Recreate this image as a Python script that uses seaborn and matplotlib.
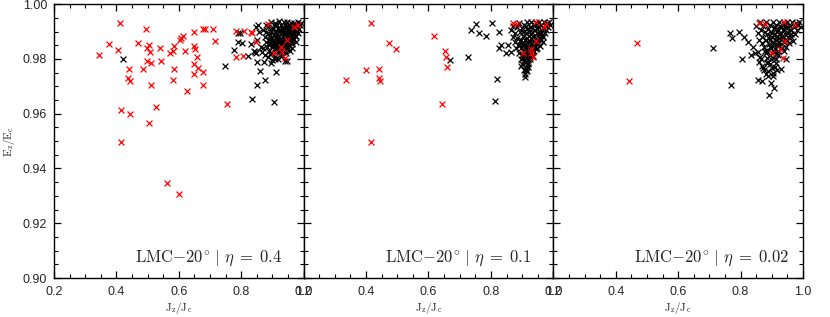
import numpy as np
import pandas as pd
import matplotlib.pyplot as plt
import seaborn as sns

sns.set_theme(style='ticks')
plt.rcParams['font.family'] = ['Liberation Sans', 'DejaVu Sans']
plt.rcParams['mathtext.fontset'] = 'cm'

# panel labels
etas = ['0.4', '0.1', '0.02']

# ---- panel 1 (eta = 0.4) ----
p1_red_x = [0.345, 0.375, 0.404, 0.413, 0.441, 0.436, 0.443, 0.415, 0.443, 0.415,
            0.470, 0.486, 0.494, 0.499, 0.503, 0.507, 0.497, 0.512, 0.512, 0.505,
            0.526, 0.539, 0.542, 0.573, 0.583, 0.585, 0.584, 0.582, 0.603, 0.606,
            0.614, 0.619, 0.625, 0.649, 0.649, 0.653, 0.649, 0.657, 0.649, 0.660,
            0.676, 0.678, 0.676, 0.684, 0.710, 0.717, 0.755, 0.782, 0.784, 0.809,
            0.806, 0.830, 0.835, 0.846, 0.886, 0.905, 0.929, 0.932, 0.948, 0.940,
            0.970, 0.981, 0.561, 0.601]
p1_red_y = [0.9816, 0.9853, 0.9833, 0.9932, 0.9762, 0.9731, 0.9720, 0.9613, 0.9598, 0.9496,
            0.9857, 0.9764, 0.9908, 0.9838, 0.9850, 0.9826, 0.9792, 0.9786, 0.9704, 0.9567,
            0.9625, 0.9838, 0.9792, 0.9820, 0.9828, 0.9847, 0.9763, 0.9723, 0.9869, 0.9875,
            0.9884, 0.9830, 0.9682, 0.9898, 0.9848, 0.9836, 0.9780, 0.9808, 0.9745, 0.9765,
            0.9753, 0.9704, 0.9908, 0.9908, 0.9908, 0.9864, 0.9634, 0.9808, 0.9903, 0.9903,
            0.9810, 0.9898, 0.9893, 0.9861, 0.9929, 0.9820, 0.9844, 0.9826, 0.9869, 0.9802,
            0.9917, 0.9923, 0.9348, 0.9305]

p1_blk_x = [0.422, 0.748, 0.778, 0.791, 0.791, 0.802, 0.822, 0.830, 0.835, 0.852,
            0.852, 0.859, 0.875, 0.873, 0.897, 0.905, 0.913, 0.940, 0.948, 0.848,
            0.865, 0.870, 0.907, 0.795, 0.840, 0.845, 0.848, 0.852, 0.858, 0.862,
            0.855,
            0.870, 0.875, 0.878, 0.880, 0.882, 0.885, 0.887, 0.889, 0.890, 0.892,
            0.894, 0.895, 0.897, 0.899, 0.900, 0.902, 0.904, 0.905, 0.907, 0.908,
            0.910, 0.911, 0.913, 0.914, 0.916, 0.917, 0.918, 0.920, 0.921, 0.922,
            0.924, 0.925, 0.927, 0.928, 0.930, 0.931, 0.933, 0.934, 0.936, 0.937,
            0.939, 0.940, 0.942, 0.943, 0.945, 0.946, 0.948, 0.949, 0.951, 0.952,
            0.954, 0.955, 0.957, 0.958, 0.960, 0.962, 0.963, 0.965, 0.967, 0.969,
            0.970, 0.972, 0.974, 0.976, 0.978, 0.980, 0.983, 0.985, 0.988, 0.990,
            0.875, 0.885, 0.893, 0.918, 0.930, 0.944, 0.955, 0.962, 0.908, 0.900,
            0.896, 0.901, 0.906, 0.911, 0.916, 0.921, 0.926, 0.931, 0.936, 0.941,
            0.946, 0.951, 0.956, 0.961, 0.966, 0.971, 0.898, 0.903, 0.909, 0.914,
            0.919, 0.923, 0.929, 0.934, 0.938, 0.944, 0.949, 0.953, 0.959, 0.964,
            0.968, 0.973, 0.880, 0.886, 0.891, 0.925, 0.935, 0.950, 0.975, 0.982]
p1_blk_y = [0.9798, 0.9775, 0.9832, 0.9893, 0.9862, 0.9857, 0.9810, 0.9853, 0.9652, 0.9789,
            0.9704, 0.9755, 0.9723, 0.9789, 0.9784, 0.9643, 0.9753, 0.9792, 0.9792, 0.9917,
            0.9826, 0.9838, 0.9808, 0.9893, 0.9830, 0.9825, 0.9820, 0.9870, 0.9900, 0.9845,
            0.9925,
            0.9905, 0.9880, 0.9925, 0.9860, 0.9842, 0.9895, 0.9915, 0.9870, 0.9830, 0.9855,
            0.9935, 0.9900, 0.9878, 0.9845, 0.9820, 0.9912, 0.9888, 0.9862, 0.9932, 0.9840,
            0.9902, 0.9875, 0.9850, 0.9922, 0.9890, 0.9865, 0.9830, 0.9940, 0.9905, 0.9880,
            0.9855, 0.9815, 0.9925, 0.9895, 0.9870, 0.9845, 0.9915, 0.9885, 0.9860, 0.9935,
            0.9900, 0.9875, 0.9840, 0.9920, 0.9890, 0.9862, 0.9935, 0.9905, 0.9878, 0.9850,
            0.9925, 0.9895, 0.9868, 0.9930, 0.9902, 0.9880, 0.9855, 0.9920, 0.9895, 0.9872,
            0.9932, 0.9908, 0.9885, 0.9925, 0.9900, 0.9918, 0.9935, 0.9910, 0.9925, 0.9930,
            0.9815, 0.9808, 0.9818, 0.9800, 0.9812, 0.9822, 0.9830, 0.9840, 0.9800, 0.9795,
            0.9870, 0.9850, 0.9890, 0.9860, 0.9880, 0.9845, 0.9905, 0.9858, 0.9890, 0.9868,
            0.9848, 0.9895, 0.9880, 0.9862, 0.9905, 0.9885, 0.9908, 0.9868, 0.9925, 0.9838,
            0.9912, 0.9870, 0.9835, 0.9908, 0.9848, 0.9912, 0.9858, 0.9918, 0.9888, 0.9870,
            0.9925, 0.9898, 0.9898, 0.9855, 0.9888, 0.9830, 0.9826, 0.9835, 0.9860, 0.9895]

# ---- panel 2 (eta = 0.1) ----
p2_red_x = [0.415, 0.472, 0.497, 0.400, 0.443, 0.440, 0.446, 0.335, 0.417, 0.617,
            0.654, 0.656, 0.658, 0.642, 0.872, 0.884, 0.943, 0.969, 0.978, 0.946,
            0.903, 0.927, 0.929, 0.935]
p2_red_y = [0.9932, 0.9857, 0.9836, 0.9759, 0.9762, 0.9731, 0.9720, 0.9723, 0.9496, 0.9883,
            0.9828, 0.9808, 0.9769, 0.9634, 0.9932, 0.9929, 0.9935, 0.9917, 0.9927, 0.9866,
            0.9822, 0.9835, 0.9822, 0.9808]

p2_blk_x = [0.668, 0.725, 0.735, 0.751, 0.763, 0.784, 0.802, 0.820, 0.813, 0.826,
            0.826, 0.831, 0.847, 0.856, 0.863,
            0.865, 0.870, 0.872, 0.876, 0.878, 0.880, 0.883, 0.885, 0.887, 0.889,
            0.890, 0.892, 0.894, 0.896, 0.897, 0.899, 0.900, 0.902, 0.903, 0.905,
            0.906, 0.907, 0.909, 0.910, 0.911, 0.913, 0.914, 0.916, 0.917, 0.918,
            0.919, 0.921, 0.922, 0.924, 0.925, 0.927, 0.928, 0.930, 0.931, 0.933,
            0.934, 0.936, 0.937, 0.939, 0.940, 0.942, 0.943, 0.945, 0.946, 0.948,
            0.950, 0.951, 0.953, 0.955, 0.956, 0.958, 0.960, 0.962, 0.964, 0.966,
            0.968, 0.970, 0.972, 0.975, 0.978, 0.980, 0.983, 0.986, 0.990, 0.908,
            0.915, 0.896, 0.920, 0.902, 0.912,
            0.898, 0.904, 0.908, 0.912, 0.917, 0.921, 0.926, 0.930, 0.935, 0.940,
            0.944, 0.949, 0.954, 0.959, 0.963, 0.967, 0.905, 0.910, 0.915, 0.919,
            0.923, 0.929, 0.933, 0.938, 0.943, 0.948, 0.952, 0.957, 0.962, 0.910,
            0.914, 0.918, 0.906, 0.916, 0.925, 0.900, 0.894, 0.932, 0.912, 0.920]
p2_blk_y = [0.9796, 0.9808, 0.9905, 0.9929, 0.9895, 0.9884, 0.9932, 0.9727, 0.9646, 0.9897,
            0.9838, 0.9850, 0.9822, 0.9850, 0.9826,
            0.9905, 0.9880, 0.9920, 0.9860, 0.9895, 0.9840, 0.9915, 0.9875, 0.9850, 0.9930,
            0.9820, 0.9900, 0.9865, 0.9800, 0.9838, 0.9912, 0.9780, 0.9885, 0.9855, 0.9760,
            0.9925, 0.9815, 0.9870, 0.9745, 0.9895, 0.9790, 0.9840, 0.9935, 0.9910, 0.9770,
            0.9860, 0.9825, 0.9885, 0.9800, 0.9918, 0.9850, 0.9875, 0.9935, 0.9830, 0.9900,
            0.9862, 0.9810, 0.9922, 0.9885, 0.9845, 0.9905, 0.9870, 0.9930, 0.9835, 0.9895,
            0.9858, 0.9915, 0.9878, 0.9935, 0.9848, 0.9900, 0.9870, 0.9925, 0.9888, 0.9860,
            0.9912, 0.9935, 0.9895, 0.9920, 0.9905, 0.9930, 0.9915, 0.9935, 0.9925, 0.9735,
            0.9755, 0.9775, 0.9795, 0.9805, 0.9815,
            0.9870, 0.9898, 0.9845, 0.9920, 0.9875, 0.9900, 0.9860, 0.9915, 0.9880, 0.9925,
            0.9855, 0.9910, 0.9890, 0.9925, 0.9905, 0.9880, 0.9830, 0.9855, 0.9805, 0.9845,
            0.9815, 0.9840, 0.9855, 0.9830, 0.9865, 0.9840, 0.9870, 0.9875, 0.9895, 0.9790,
            0.9765, 0.9785, 0.9795, 0.9825, 0.9808, 0.9815, 0.9850, 0.9812, 0.9760, 0.9780]

# ---- panel 3 (eta = 0.02) ----
p3_red_x = [0.469, 0.442, 0.859, 0.878, 0.939, 0.974, 0.942, 0.902, 0.926, 0.937]
p3_red_y = [0.9857, 0.9721, 0.9932, 0.9929, 0.9935, 0.9923, 0.9866, 0.9822, 0.9835, 0.9805]

p3_blk_x = [0.711, 0.770, 0.803, 0.766, 0.772, 0.796, 0.811, 0.825, 0.834, 0.841,
            0.857, 0.868, 0.892, 0.908, 0.898, 0.887, 0.873, 0.860, 0.862, 0.884,
            0.916, 0.929, 0.910, 0.946, 0.905, 0.846,
            0.850, 0.855, 0.858, 0.862, 0.865, 0.867, 0.870, 0.872, 0.875, 0.877,
            0.880, 0.882, 0.884, 0.886, 0.888, 0.890, 0.892, 0.894, 0.896, 0.898,
            0.900, 0.902, 0.904, 0.905, 0.907, 0.909, 0.911, 0.913, 0.915, 0.917,
            0.918, 0.920, 0.922, 0.924, 0.926, 0.928, 0.930, 0.932, 0.934, 0.936,
            0.938, 0.940, 0.942, 0.944, 0.946, 0.948, 0.950, 0.953, 0.955, 0.958,
            0.960, 0.963, 0.966, 0.968, 0.970, 0.973, 0.976, 0.980, 0.984, 0.988,
            0.992,
            0.895, 0.901, 0.906, 0.910, 0.914, 0.919, 0.923, 0.927, 0.931, 0.935,
            0.939, 0.943, 0.947, 0.952, 0.957, 0.962, 0.880, 0.885, 0.889, 0.893,
            0.897, 0.903, 0.908, 0.912, 0.917, 0.921, 0.870, 0.876, 0.882, 0.888,
            0.894, 0.900, 0.905, 0.912, 0.855, 0.865, 0.878, 0.895, 0.920, 0.940]
p3_blk_y = [0.9841, 0.9704, 0.9799, 0.9895, 0.9875, 0.9899, 0.9881, 0.9862, 0.9816, 0.9844,
            0.9723, 0.9719, 0.9670, 0.9692, 0.9711, 0.9737, 0.9765, 0.9789, 0.9808, 0.9784,
            0.9759, 0.9762, 0.9771, 0.9798, 0.9737, 0.9822,
            0.9920, 0.9895, 0.9870, 0.9935, 0.9905, 0.9858, 0.9880, 0.9920, 0.9845, 0.9900,
            0.9870, 0.9935, 0.9830, 0.9890, 0.9910, 0.9855, 0.9875, 0.9925, 0.9840, 0.9900,
            0.9820, 0.9880, 0.9935, 0.9860, 0.9912, 0.9835, 0.9890, 0.9870, 0.9925, 0.9850,
            0.9900, 0.9815, 0.9875, 0.9935, 0.9892, 0.9855, 0.9915, 0.9838, 0.9880, 0.9905,
            0.9860, 0.9928, 0.9890, 0.9845, 0.9912, 0.9870, 0.9935, 0.9895, 0.9858, 0.9920,
            0.9880, 0.9905, 0.9935, 0.9865, 0.9915, 0.9890, 0.9930, 0.9905, 0.9925, 0.9935,
            0.9918,
            0.9870, 0.9895, 0.9850, 0.9918, 0.9880, 0.9905, 0.9862, 0.9920, 0.9895, 0.9875,
            0.9910, 0.9865, 0.9925, 0.9880, 0.9905, 0.9890, 0.9820, 0.9805, 0.9790, 0.9815,
            0.9800, 0.9805, 0.9825, 0.9800, 0.9820, 0.9830, 0.9775, 0.9760, 0.9745, 0.9755,
            0.9780, 0.9765, 0.9750, 0.9785, 0.9825, 0.9800, 0.9830, 0.9845, 0.9850, 0.9830]

panels = [
    (p1_red_x, p1_red_y, p1_blk_x, p1_blk_y),
    (p2_red_x, p2_red_y, p2_blk_x, p2_blk_y),
    (p3_red_x, p3_red_y, p3_blk_x, p3_blk_y),
]

fig, axes = plt.subplots(1, 3, figsize=(8.3, 3.17), dpi=100, sharey=True)
fig.subplots_adjust(left=0.065, right=0.9675, top=0.987, bottom=0.123, wspace=0)

for i, (rx, ry, bx, by) in enumerate(panels):
    ax = axes[i]
    sns.scatterplot(x=bx, y=by, ax=ax, marker='x', color='black', s=18, linewidth=0.9)
    sns.scatterplot(x=rx, y=ry, ax=ax, marker='x', color='#ff0000', s=18, linewidth=0.9)
    ax.set_xlim(0.2, 1.0)
    ax.set_ylim(0.90, 1.00)
    ax.set_xticks([0.2, 0.4, 0.6, 0.8, 1.0])
    ax.set_xticks(np.arange(0.2, 1.0001, 0.05), minor=True)
    ax.set_yticks([0.90, 0.92, 0.94, 0.96, 0.98, 1.00])
    ax.set_yticks(np.arange(0.90, 1.0001, 0.005), minor=True)
    ax.xaxis.set_major_formatter(plt.FormatStrFormatter('%.1f'))
    ax.yaxis.set_major_formatter(plt.FormatStrFormatter('%.2f'))
    ax.tick_params(which='both', direction='in', top=True, right=True, labelsize=9, color='black')
    ax.tick_params(which='major', length=5, width=0.9)
    ax.tick_params(which='minor', length=3, width=0.8)
    ax.tick_params(axis='x', pad=6)
    ax.tick_params(axis='y', pad=5)
    if i > 0:
        ax.tick_params(axis='y', labelleft=False)
    for sp in ax.spines.values():
        sp.set_linewidth(1.0)
        sp.set_color('black')
    ax.set_xlabel(r'$\mathrm{J_z/J_c}$', fontsize=8, labelpad=1)
    ax.text(0.325, 0.035, r'$\mathrm{LMC{-}20^{\circ}}\ |\ \eta\;=\;' + etas[i] + '$',
            transform=ax.transAxes, ha='left', va='bottom', fontsize=12)

axes[0].set_ylabel(r'$\mathrm{E_z/E_c}$', fontsize=8, labelpad=4)

plt.savefig('out.png', dpi=100)
